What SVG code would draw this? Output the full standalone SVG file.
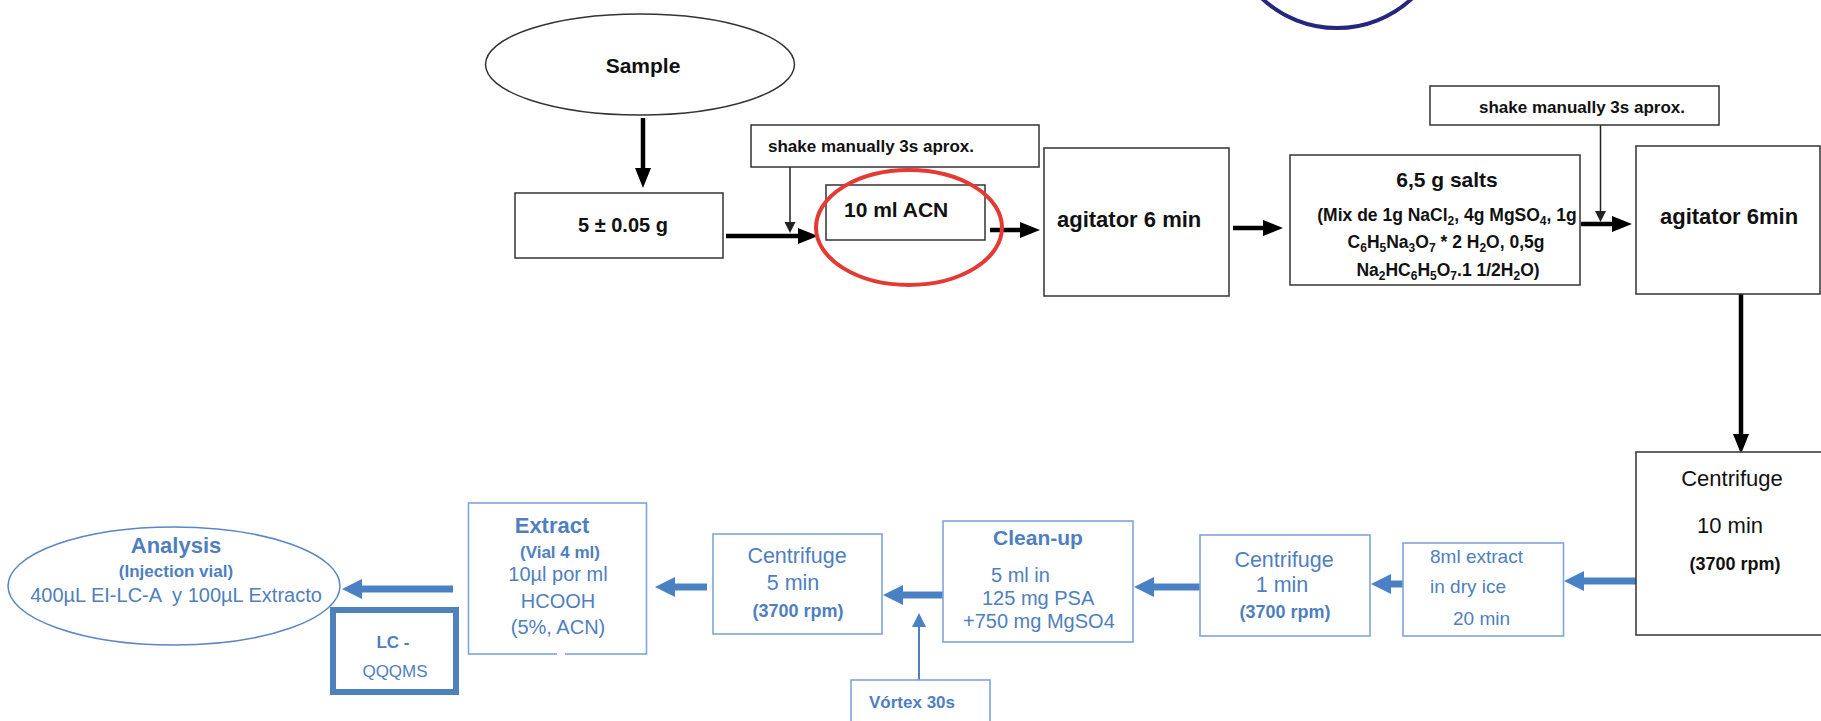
<svg xmlns="http://www.w3.org/2000/svg" width="1821" height="721" viewBox="0 0 1821 721">
  <style>
    .t { font-family: "Liberation Sans", Arial, sans-serif; }
    .k { fill: #111; }
    .u { fill: #4f7fbe; }
    .b { font-weight: bold; }
    .m { text-anchor: middle; }
    .box { fill: #fff; stroke: #333; stroke-width: 1.5; }
    .bbox { fill: #fff; stroke: #7ea6da; stroke-width: 1.6; }
    .ak { fill: none; stroke: #000; stroke-width: 4.5; }
    .akt { fill: none; stroke: #222; stroke-width: 1.5; }
    .ab { fill: none; stroke: #4a80c4; stroke-width: 7; }
    .abt { fill: none; stroke: #4a80c4; stroke-width: 2; }
  </style>
  <defs>
    <marker id="hk" markerUnits="userSpaceOnUse" markerWidth="20" markerHeight="16" refX="0" refY="8" orient="auto" overflow="visible">
      <path d="M0,0 L20,8 L0,16 z" fill="#000"/>
    </marker>
    <marker id="hkt" markerUnits="userSpaceOnUse" markerWidth="11" markerHeight="11" refX="0" refY="5.5" orient="auto" overflow="visible">
      <path d="M0,0 L11,5.5 L0,11 z" fill="#222"/>
    </marker>
    <marker id="hb" markerUnits="userSpaceOnUse" markerWidth="20" markerHeight="20" refX="0" refY="10" orient="auto" overflow="visible">
      <path d="M0,0 L20,10 L0,20 z" fill="#4a80c4"/>
    </marker>
    <marker id="hbt" markerUnits="userSpaceOnUse" markerWidth="14" markerHeight="14" refX="0" refY="7" orient="auto" overflow="visible">
      <path d="M0,0 L14,7 L0,14 z" fill="#4a80c4"/>
    </marker>
  </defs>

  <rect width="1821" height="721" fill="#fff"/>

  <!-- partial ring at the top edge -->
  <circle cx="1337" cy="-82" r="110" fill="none" stroke="#26267d" stroke-width="4"/>

  <!-- connectors -->
  <g id="connectors">
    <line class="ak" x1="643" y1="118" x2="643" y2="168" marker-end="url(#hk)"/>
    <line class="ak" x1="726" y1="236" x2="798" y2="236" marker-end="url(#hk)"/>
    <line class="akt" x1="790" y1="167" x2="790" y2="222" marker-end="url(#hkt)"/>
    <line class="ak" x1="990" y1="230" x2="1020" y2="230" marker-end="url(#hk)"/>
    <line class="ak" x1="1233" y1="228" x2="1263" y2="228" marker-end="url(#hk)"/>
    <line class="akt" x1="1600.5" y1="125" x2="1600.5" y2="211" marker-end="url(#hkt)"/>
    <line class="ak" x1="1581" y1="224" x2="1612" y2="224" marker-end="url(#hk)"/>
    <line class="ak" x1="1741" y1="294" x2="1741" y2="434" marker-end="url(#hk)"/>
    <line class="ab" x1="1636" y1="581" x2="1584" y2="581" marker-end="url(#hb)"/>
    <line class="ab" x1="1403" y1="584" x2="1391" y2="584" marker-end="url(#hb)"/>
    <line class="ab" x1="1200" y1="587" x2="1154" y2="587" marker-end="url(#hb)"/>
    <line class="ab" x1="943" y1="595" x2="903" y2="595" marker-end="url(#hb)"/>
    <line class="ab" x1="707" y1="587" x2="675" y2="587" marker-end="url(#hb)"/>
    <line class="ab" x1="453" y1="589" x2="362" y2="589" marker-end="url(#hb)"/>
    <line class="abt" x1="919" y1="680" x2="919" y2="627" marker-end="url(#hbt)"/>
  </g>

  <!-- top row -->
  <g id="sample">
    <ellipse cx="640" cy="64.5" rx="154.5" ry="50.5" fill="#fff" stroke="#333" stroke-width="1.5"/>
    <text class="t k b m" x="643" y="73" font-size="21">Sample</text>
  </g>
  <g id="weigh">
    <rect class="box" x="515" y="193" width="208" height="65"/>
    <text class="t k b m" x="623" y="232" font-size="20">5 ± 0.05 g</text>
  </g>
  <g id="shake-1">
    <rect class="box" x="751" y="125" width="288" height="42"/>
    <text class="t k b" x="768" y="152" font-size="17">shake manually 3s aprox.</text>
  </g>
  <g id="acn">
    <rect class="box" x="826" y="185" width="159" height="55"/>
    <text class="t k b" x="844" y="217" font-size="21">10 ml ACN</text>
  </g>
  <g id="agitator-1">
    <rect class="box" x="1044" y="148" width="185" height="148"/>
    <text class="t k b" x="1057" y="227" font-size="22">agitator 6 min</text>
  </g>
  <g id="salts">
    <rect class="box" x="1290" y="155" width="290" height="130"/>
    <text class="t k b m" x="1447" y="187" font-size="21">6,5 g salts</text>
    <text class="t k b m" x="1447" y="221" font-size="17.5">(Mix de 1g NaCl<tspan font-size="12" dy="4">2</tspan><tspan dy="-4">, 4g MgSO</tspan><tspan font-size="12" dy="4">4</tspan><tspan dy="-4">, 1g</tspan></text>
    <text class="t k b m" x="1446" y="248" font-size="17.5">C<tspan font-size="12" dy="4">6</tspan><tspan dy="-4">H</tspan><tspan font-size="12" dy="4">5</tspan><tspan dy="-4">Na</tspan><tspan font-size="12" dy="4">3</tspan><tspan dy="-4">O</tspan><tspan font-size="12" dy="4">7</tspan><tspan dy="-4"> * 2 H</tspan><tspan font-size="12" dy="4">2</tspan><tspan dy="-4">O, 0,5g</tspan></text>
    <text class="t k b m" x="1448" y="276" font-size="17.5">Na<tspan font-size="12" dy="4">2</tspan><tspan dy="-4">HC</tspan><tspan font-size="12" dy="4">6</tspan><tspan dy="-4">H</tspan><tspan font-size="12" dy="4">5</tspan><tspan dy="-4">O</tspan><tspan font-size="12" dy="4">7</tspan><tspan dy="-4">.1 1/2H</tspan><tspan font-size="12" dy="4">2</tspan><tspan dy="-4">O)</tspan></text>
  </g>
  <g id="shake-2">
    <rect class="box" x="1430" y="86" width="289" height="39"/>
    <text class="t k b" x="1479" y="113" font-size="17">shake manually 3s aprox.</text>
  </g>
  <g id="agitator-2">
    <rect class="box" x="1636" y="146" width="184" height="148"/>
    <text class="t k b" x="1660" y="224" font-size="22">agitator 6min</text>
  </g>

  <!-- highlight around the solvent step -->
  <ellipse cx="909" cy="227.5" rx="93" ry="57.5" fill="none" stroke="#e53a33" stroke-width="4"/>

  <!-- bottom row -->
  <g id="centrifuge-10">
    <rect class="box" x="1636" y="452" width="190" height="183"/>
    <text class="t k m" x="1732" y="486" font-size="22">Centrifuge</text>
    <text class="t k m" x="1730" y="533" font-size="22">10 min</text>
    <text class="t k b m" x="1735" y="570" font-size="18">(3700 rpm)</text>
  </g>
  <g id="dry-ice">
    <rect class="bbox" x="1403" y="543" width="160.5" height="93"/>
    <text class="t u" x="1430" y="563" font-size="19">8ml extract</text>
    <text class="t u" x="1430" y="593" font-size="19">in dry ice</text>
    <text class="t u" x="1453" y="625" font-size="19">20 min</text>
  </g>
  <g id="centrifuge-1">
    <rect class="bbox" x="1200" y="535" width="170" height="101"/>
    <text class="t u m" x="1284" y="567" font-size="21.5">Centrifuge</text>
    <text class="t u m" x="1282" y="592" font-size="21.5">1 min</text>
    <text class="t u b m" x="1285" y="618" font-size="18">(3700 rpm)</text>
  </g>
  <g id="clean-up">
    <rect class="bbox" x="943" y="521" width="190" height="121"/>
    <text class="t u b m" x="1038" y="545" font-size="21">Clean-up</text>
    <text class="t u" x="991" y="582" font-size="20">5 ml in</text>
    <text class="t u" x="982" y="605" font-size="20">125 mg PSA</text>
    <text class="t u" x="963" y="628" font-size="20">+750 mg MgSO4</text>
  </g>
  <g id="vortex">
    <rect class="bbox" x="851" y="680" width="139" height="60"/>
    <text class="t u b" x="869" y="708" font-size="17">Vórtex 30s</text>
  </g>
  <g id="centrifuge-5">
    <rect class="bbox" x="713" y="534" width="169" height="100"/>
    <text class="t u m" x="797" y="563" font-size="21.5">Centrifuge</text>
    <text class="t u m" x="793" y="590" font-size="21.5">5 min</text>
    <text class="t u b m" x="798" y="617" font-size="18">(3700 rpm)</text>
  </g>
  <g id="extract">
    <rect class="bbox" x="468.5" y="503" width="178" height="151"/>
    <line x1="557" y1="654" x2="565" y2="654" stroke="#fff" stroke-width="3"/>
    <text class="t u b m" x="552" y="533" font-size="22">Extract</text>
    <text class="t u b m" x="560" y="558" font-size="17">(Vial 4 ml)</text>
    <text class="t u m" x="558" y="581" font-size="20">10µl por ml</text>
    <text class="t u m" x="558" y="608" font-size="20">HCOOH</text>
    <text class="t u m" x="558" y="634" font-size="20">(5%, ACN)</text>
  </g>
  <g id="analysis">
    <ellipse cx="174" cy="586" rx="166" ry="59" fill="#fff" stroke="#5a86c5" stroke-width="1.5"/>
    <text class="t u b m" x="176" y="553" font-size="22">Analysis</text>
    <text class="t u b m" x="176" y="577" font-size="17">(Injection vial)</text>
    <text class="t u m" x="176" y="602" font-size="20" xml:space="preserve">400µL EI-LC-A  y 100µL Extracto</text>
  </g>
  <g id="lc-qqqms">
    <rect x="333" y="610" width="123" height="82" fill="#fff" stroke="#4f81bd" stroke-width="6"/>
    <text class="t u b m" x="393" y="648" font-size="17">LC -</text>
    <text class="t u m" x="395" y="677" font-size="17">QQQMS</text>
  </g>
</svg>
